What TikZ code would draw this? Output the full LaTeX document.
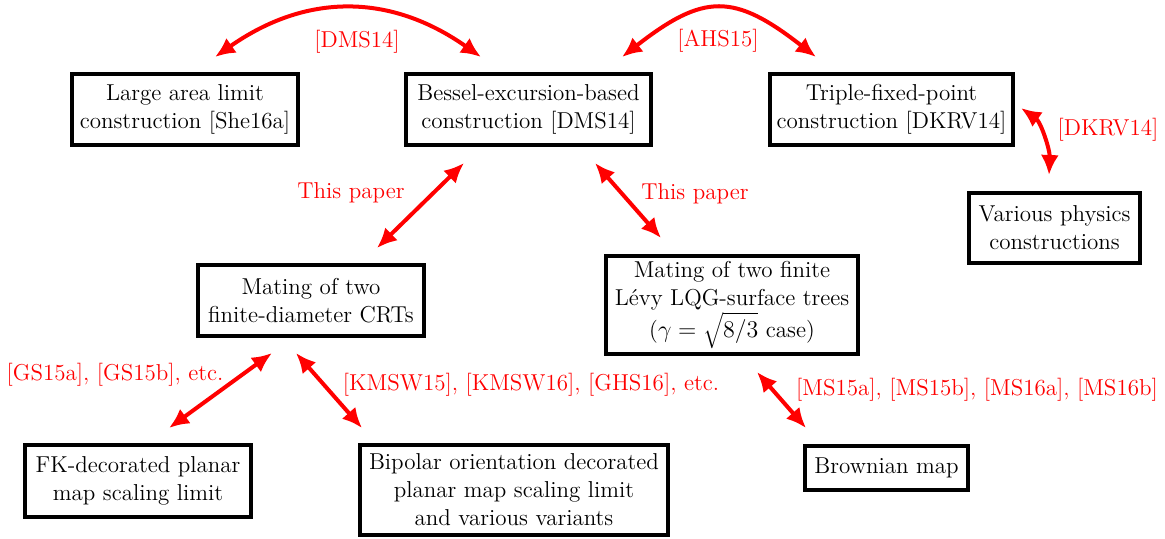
\documentclass[tikz,border=0pt]{standalone}
\usepackage{fontspec}
\usetikzlibrary{arrows.meta}
\begin{document}
\begin{tikzpicture}[x=0.5pt,y=-0.5pt,
  box/.style={draw=black, line width=2.2pt, inner sep=0pt, align=center, font=\fontsize{11.5}{14}\selectfont},
  lbl/.style={text=red, inner sep=0pt, font=\fontsize{11.5}{14}\selectfont},
  arr/.style={draw=red, line width=2pt, {Latex[length=10pt,width=9pt]}-{Latex[length=10pt,width=9pt]}}
]
\useasboundingbox[fill=white] (0,0) rectangle (1165,538);
% boxes
\node[box, minimum width=112.8pt, minimum height=35.3pt] (large) at (185,109.5) {Large area limit\\construction [She16a]};
\node[box, minimum width=122.3pt, minimum height=35.3pt] (bessel) at (528.5,109.5) {Bessel-excursion-based\\construction [DMS14]};
\node[box, minimum width=121.3pt, minimum height=35.3pt] (triple) at (891.5,109.5) {Triple-fixed-point\\construction [DKRV14]};
\node[box, minimum width=85.3pt, minimum height=34.8pt] (various) at (1054.5,228) {Various physics\\constructions};
\node[box, minimum width=112.8pt, minimum height=35.3pt] (crt) at (311,300.5) {Mating of two\\finite-diameter CRTs};
\node[box, minimum width=125.8pt, minimum height=48.8pt] (levy) at (732,305) {Mating of two finite\\Lévy LQG-surface trees\\($\gamma=\sqrt{8/3}$ case)};
\node[box, minimum width=112.8pt, minimum height=35.8pt] (fk) at (138,481) {FK-decorated planar\\map scaling limit};
\node[box, minimum width=153.8pt, minimum height=44.8pt] (bipolar) at (514,490) {Bipolar orientation decorated\\planar map scaling limit\\and various variants};
\node[box, minimum width=81.3pt, minimum height=21.8pt] (brownian) at (886.5,468) {Brownian map};
% labels
\node[lbl] (ldms) at (357,42) {[DMS14]};
\node[lbl] (lahs) at (718,41) {[AHS15]};
\node[lbl] (ldkrv) at (1108,130) {[DKRV14]};
\node[lbl] (ltp1) at (351,193) {This paper};
\node[lbl] (ltp2) at (695,194) {This paper};
\node[lbl] (lgs) at (115,375) {[GS15a], [GS15b], etc.};
\node[lbl] (lkm) at (531,385) {[KMSW15], [KMSW16], [GHS16], etc.};
\node[lbl] (lms) at (977,390) {[MS15a], [MS15b], [MS16a], [MS16b]};
% connector end points
\coordinate (d1) at (215,57);
\coordinate (d2) at (481,57);
\coordinate (a1) at (622,57);
\coordinate (a2) at (816,57);
\coordinate (k1) at (1021,108);
\coordinate (k2) at (1049,175);
\coordinate (p1) at (464,163);
\coordinate (p2) at (377,248);
\coordinate (q1) at (595,163);
\coordinate (q2) at (661,238);
\coordinate (g1) at (272,353);
\coordinate (g2) at (169,428);
\coordinate (m1) at (296,353);
\coordinate (m2) at (362,428);
\coordinate (s1) at (757,372);
\coordinate (s2) at (806,428);
% connectors
\draw[arr] (d1) .. controls (306,-7) and (390,-7) .. (d2);
\draw[arr] (a1) .. controls (704,-7) and (734,-7) .. (a2);
\draw[arr] (k1) .. controls (1041,122) and (1050,150) .. (k2);
\draw[arr] (p1) -- (p2);
\draw[arr] (q1) -- (q2);
\draw[arr] (g1) -- (g2);
\draw[arr] (m1) -- (m2);
\draw[arr] (s1) -- (s2);
\end{tikzpicture}
\end{document}
